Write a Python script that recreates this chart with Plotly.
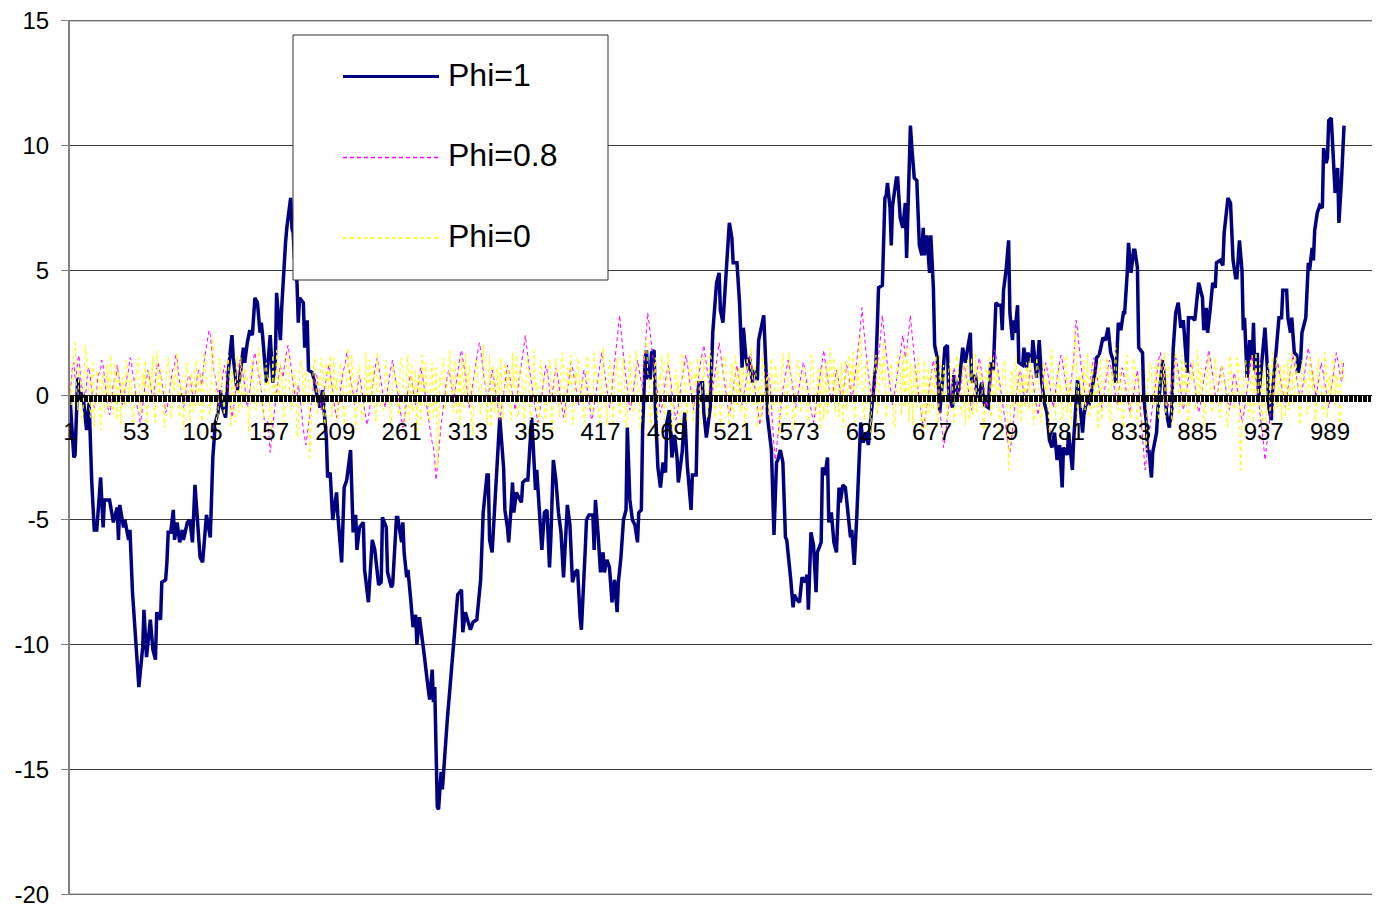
import plotly.graph_objects as go

# ---------------- data ----------------
phi1_cat = [1,2,4,5,7,9,11,12,14,16,18,20,22,25,27,28,32,35,38,39,40,43,44,47,48,50,52,54,55,58,59,61,64,66,68,69,72,73,76,77,78,80,82,83,85,87,89,90,93,95,
97,99,101,103,105,107,108,111,112,113,115,117,119,120,123,125,128,129,132,134,137,138,140,142,144,146,148,150,151,152,155,158,160,162,163,166,167,168,170,171,172,174,175,176,177,178,179,180,181,184,
185,187,188,191,192,195,197,199,202,203,205,207,210,211,214,216,218,221,223,225,226,228,231,232,235,238,240,243,245,246,249,250,253,254,257,258,261,262,263,265,266,268,270,272,273,275,277,279,281,283,
285,286,287,289,290,292,293,296,297,299,301,303,305,308,309,311,313,315,317,320,323,324,325,326,328,329,330,332,334,336,338,341,342,344,345,347,348,349,351,352,355,356,358,360,363,364,366,367,369,371,
373,375,377,378,380,382,384,386,388,391,393,395,397,399,401,402,405,406,408,411,412,413,415,417,419,420,422,424,426,428,430,431,433,435,437,438,440,442,444,446,447,449,450,452,453,454,456,457,459,460,
462,464,466,468,469,471,473,475,477,478,481,483,485,488,489,492,493,494,497,498,500,503,505,507,508,510,511,513,515,517,518,520,521,524,526,528,529,531,533,534,536,537,540,541,544,545,547,548,551,552,
553,555,556,558,560,562,563,566,568,569,571,573,575,577,579,580,582,584,586,587,590,591,593,595,596,598,600,602,604,605,607,609,611,613,614,616,618,620,621,623,625,627,629,631,633,634,635,638,639,640,
641,642,644,645,646,649,650,652,654,656,657,658,660,661,663,665,666,667,669,670,671,673,675,676,678,679,681,683,685,687,689,690,693,694,697,698,701,703,705,707,708,711,713,716,718,721,723,725,727,729,
731,732,733,735,737,738,740,741,742,744,745,748,749,751,752,755,756,758,759,761,763,765,767,769,771,773,775,777,779,780,783,784,787,788,791,792,795,796,799,800,802,805,806,808,811,813,815,817,819,821,
823,825,827,828,830,831,833,835,836,838,839,842,843,845,846,847,849,850,853,854,857,858,860,861,863,865,866,868,870,872,874,875,877,878,881,883,885,886,889,890,892,893,895,897,899,900,903,905,906,908,
909,911,913,915,916,918,920,921,922,924,926,928,929,930,932,933,936,937,938,940,941,943,944,947,949,951,952,955,956,958,959,961,963,964,966,967,969,970,972,973,975,976,977,979,981,983,984,986,987,988,
990,991,993,995,996,998,999,1000]

phi1_values = [-0.1,-1.0,-2.5,-2.4,0.7,-0.2,0.1,-0.4,-1.4,-0.3,-3.4,-5.4,-5.4,-3.3,-5.3,-4.2,-4.2,-5.1,-4.5,-5.8,-4.4,-5.3,-5.0,-5.8,-5.4,-7.9,-9.4,-11.3,-11.7,-10.1,-8.6,-10.5,-9.0,-10.2,-10.6,-8.7,-9.0,-7.5,-7.4,-6.7,-5.5,-5.5,-4.6,-5.8,-5.1,-5.9,-5.4,-5.8,-5.1,-5.0,
-5.9,-3.6,-5.1,-6.5,-6.7,-5.1,-4.8,-5.7,-4.3,-2.5,-1.1,-0.7,0.2,-0.4,-0.9,0.9,2.4,1.5,0.2,0.7,1.9,1.3,2.1,2.6,2.4,3.9,3.7,2.5,2.9,2.4,0.5,2.4,0.5,1.3,4.1,2.2,3.5,4.6,6.1,6.7,7.1,7.9,6.7,6.5,5.5,5.0,4.5,2.9,3.9,3.7,
1.9,3.0,1.0,0.9,0.7,-0.1,-0.5,0.2,-1.7,-3.3,-3.1,-5.0,-3.9,-4.8,-6.7,-3.7,-3.4,-2.2,-5.5,-4.8,-6.2,-5.3,-5.1,-7.0,-8.3,-5.8,-6.2,-7.6,-7.5,-4.9,-5.3,-7.1,-7.7,-7.6,-4.9,-4.9,-5.9,-5.1,-6.3,-7.3,-7.0,-8.1,-9.3,-8.8,-10.0,-8.9,-9.6,-10.5,-11.4,-12.2,
-11.0,-12.3,-11.7,-16.5,-16.6,-15.1,-15.8,-13.4,-12.9,-11.7,-10.5,-9.0,-8.0,-7.8,-9.5,-8.7,-9.0,-9.4,-9.1,-9.0,-7.4,-5.8,-4.7,-4.2,-3.2,-3.2,-5.8,-6.3,-4.4,-2.9,-0.9,-2.9,-4.6,-5.3,-5.9,-4.4,-3.5,-4.7,-3.9,-4.0,-4.3,-3.5,-3.4,-3.4,-0.9,-1.8,-3.8,-3.0,-4.4,-6.2,
-4.7,-4.6,-6.9,-5.8,-2.6,-3.4,-4.7,-5.5,-7.3,-4.4,-5.2,-7.5,-7.1,-7.0,-8.9,-9.4,-6.2,-5.0,-4.8,-4.8,-6.2,-4.2,-5.5,-7.1,-6.3,-7.1,-6.6,-6.9,-8.3,-7.4,-8.7,-7.5,-6.5,-5.0,-4.6,-1.3,-4.2,-5.0,-5.2,-5.9,-4.7,-4.6,-1.4,1.5,1.8,0.7,0.7,1.7,1.8,-0.5,
-2.9,-3.7,-2.7,-3.1,-1.1,-0.6,-2.5,-1.6,-2.5,-3.5,-2.3,-0.7,-2.8,-4.6,-3.2,-3.2,-0.7,0.5,0.5,-0.7,-1.7,-0.5,2.5,4.2,4.5,4.9,3.4,2.9,4.5,6.3,6.9,6.3,5.3,5.3,3.7,1.1,2.7,1.5,1.0,1.5,0.5,1.0,0.6,2.2,3.1,3.2,0.7,-0.9,-2.2,-3.9,
-5.6,-2.7,-2.6,-2.2,-2.7,-5.7,-5.8,-7.3,-8.5,-8.0,-8.2,-8.3,-7.3,-7.5,-7.2,-8.6,-5.5,-6.0,-7.9,-6.3,-5.9,-2.9,-3.2,-2.5,-5.1,-4.7,-5.9,-6.3,-3.7,-4.3,-3.6,-3.7,-4.9,-5.7,-5.4,-6.8,-4.8,-2.7,-1.1,-1.9,-1.5,-2.0,-0.8,0.0,1.3,2.7,4.3,4.4,6.8,7.9,
8.0,8.5,7.5,6.0,7.6,8.7,8.7,7.1,6.7,7.7,5.5,7.4,10.8,10.0,8.7,8.6,7.6,6.0,5.6,6.7,5.6,6.4,4.9,6.4,4.3,2.0,1.5,-0.7,0.5,1.9,2.0,0.1,-0.5,0.8,-0.1,0.5,1.9,1.3,2.0,2.5,0.5,0.8,-0.1,0.5,-0.4,-0.5,1.3,1.0,3.7,3.6,
3.6,2.6,4.2,5.0,6.2,3.3,2.2,3.0,2.5,3.6,1.3,1.2,1.9,1.1,1.7,1.3,2.2,1.2,0.7,2.2,0.5,-0.3,-0.7,-1.8,-2.1,-1.5,-2.6,-2.0,-3.7,-2.1,-2.4,-1.5,-3.0,-1.8,0.6,0.2,-1.5,-0.8,0.0,-0.4,0.1,1.0,1.5,1.6,2.3,2.2,2.7,1.7,1.4,0.5,
2.9,2.6,3.3,3.3,4.9,6.1,4.9,5.8,5.8,5.1,1.9,1.7,-0.1,-1.1,-2.3,-2.2,-3.3,-2.3,-1.5,-0.6,1.0,1.4,-0.2,-0.8,-1.3,-0.6,1.8,3.3,3.7,2.7,3.0,2.2,0.9,3.1,3.1,3.0,4.1,4.5,3.9,2.6,3.5,2.5,3.4,4.5,4.3,5.3,5.4,5.2,6.5,7.7,
7.9,7.7,5.4,4.7,4.7,6.2,5.0,2.6,3.1,0.7,2.2,1.4,2.9,1.0,1.7,-0.1,1.4,1.9,2.7,1.0,-0.5,-1.0,0.2,1.9,3.1,3.1,4.2,4.2,3.1,2.5,3.1,1.7,1.6,0.9,1.4,2.5,3.0,3.1,5.3,5.0,5.9,5.4,6.6,7.3,7.6,7.5,9.9,9.3,9.5,11.0,
11.1,10.1,8.1,9.1,6.9,8.6,9.8,10.8]

# Phi=0 series, values at odd categories (1, 3, 5, ...)
phi0_odd = [
0.3,1.2,2.1,-0.6,0.8,-1.1,2.0,0.4,-0.9,1.3,-0.2,0.7,-1.4,0.9,0.1,-0.5,1.6,-0.8,0.5,1.1,-1.2,0.2,1.4,-0.3,0.6,
-1.0,0.8,1.5,-0.4,0.3,-1.6,1.0,0.6,-0.7,1.8,-0.1,0.4,-1.3,1.2,0.9,-0.6,0.2,1.7,-0.9,0.5,-0.3,1.3,-1.1,0.7,1.0,
-0.5,0.9,-1.2,1.4,0.2,-0.8,2.3,0.5,-1.0,1.1,-0.4,0.8,1.6,-1.3,0.3,0.9,-0.7,1.5,-0.2,0.6,-1.5,1.2,0.4,-0.6,1.9,
0.1,-0.9,1.3,0.7,-1.4,0.5,1.8,-0.3,0.9,-1.1,1.4,0.2,-0.6,1.0,-1.7,0.8,1.2,-0.4,0.6,-2.5,0.3,1.5,-0.8,0.4,1.1,
-1.2,0.7,1.6,-0.5,0.2,-1.0,1.3,0.8,-0.7,1.9,-0.3,0.5,-1.4,1.1,0.3,-0.9,1.7,0.6,-0.4,1.2,-1.1,0.9,0.1,-0.6,1.4,
0.4,-1.3,1.0,0.6,-0.8,1.5,-0.2,0.9,-1.0,1.2,0.3,-1.5,0.8,1.6,-0.5,0.2,-1.1,1.3,-0.4,-2.9,0.7,1.1,-0.6,0.5,1.8,
-0.7,1.4,0.2,-1.2,0.9,1.7,-0.3,0.6,-1.6,1.0,0.4,-0.8,2.0,-0.1,0.7,-1.3,1.2,0.5,-0.9,1.5,-0.4,0.8,1.1,-1.0,0.3,
1.6,-0.6,0.9,-1.4,1.3,0.2,-0.7,1.8,0.5,-1.1,1.0,-0.2,0.6,1.4,-1.5,0.8,0.3,-0.9,1.7,-0.5,1.1,0.4,-1.2,0.9,1.5,
-0.3,0.7,-1.0,1.6,0.1,-0.8,1.2,0.6,-1.4,1.9,-0.4,0.5,1.3,-1.1,0.8,0.2,-0.6,1.5,-1.3,1.0,0.4,-0.7,1.8,0.3,-0.9,
1.4,2.3,0.6,-1.2,1.1,-0.5,0.8,1.6,-1.0,0.3,1.2,-1.5,0.7,0.1,-0.8,1.7,0.5,-1.1,1.3,-0.3,0.9,1.5,-1.2,0.6,0.2,
-0.9,1.8,0.4,-0.6,1.2,-1.3,0.7,1.4,-0.2,0.9,-1.0,1.6,0.3,-0.7,1.1,-1.4,0.5,1.9,-0.4,0.8,0.2,-1.1,1.3,0.6,-0.8,
1.5,-0.5,0.9,-1.6,1.0,0.4,-0.9,1.7,0.2,-1.2,1.3,0.7,-0.3,1.1,-1.0,0.5,1.6,-0.6,0.8,-1.4,1.2,0.3,-0.8,1.9,0.1,
-0.7,1.1,0.6,-1.3,1.4,-0.2,0.9,1.7,-1.0,0.4,2.4,-0.6,1.2,0.5,-1.5,0.8,1.6,-0.4,1.0,2.2,-0.9,0.7,1.3,-1.2,0.3,
1.5,-0.8,0.6,1.9,-1.1,0.2,1.2,-0.5,0.9,-1.7,1.4,0.4,-0.7,1.0,0.6,-1.3,1.8,-0.2,0.8,-1.0,1.3,0.5,-0.6,1.6,-0.4,
0.9,-1.2,1.4,0.3,-0.8,1.7,-0.3,0.6,-1.4,1.1,0.5,-0.9,1.5,-0.1,0.8,-1.6,1.2,0.4,-3.0,1.0,-0.5,1.6,0.2,-1.1,0.9,
1.3,-0.6,0.7,-1.2,1.5,0.3,-0.9,1.1,0.6,-1.5,1.8,-0.4,0.9,0.2,-1.0,1.4,-0.7,0.5,1.2,2.6,-1.3,0.8,0.4,-0.6,1.7,
-0.8,1.0,0.5,-1.4,1.6,-0.2,0.7,1.3,-1.1,0.4,1.9,-0.6,0.9,-1.3,1.2,0.1,-0.9,1.5,-0.5,0.8,0.3,-1.6,-2.2,0.6,1.1,
-0.4,1.4,-1.0,0.7,1.7,-0.3,0.9,-1.2,1.3,0.5,-0.8,1.6,0.2,-1.5,1.0,0.6,-0.6,1.8,-0.1,0.8,-1.1,1.2,0.4,-0.7,1.5,
0.3,-0.9,1.1,0.6,-1.3,1.6,-0.4,0.8,1.2,-3.0,0.5,1.4,-0.7,0.9,-1.1,1.7,0.2,-0.5,1.0,-1.4,1.3,0.6,-0.8,1.5,0.1,
-1.0,1.2,0.7,-0.6,1.8,-0.3,0.9,-1.2,1.4,0.4,-0.8,1.6,0.2,-1.1,1.0,0.5,-0.5,1.7,-0.9,0.8,1.3,-0.4,0.6,-1.3,1.1]

# Phi=0 series, values at even categories (2, 4, 6, ...)
phi0_even = [
-0.4,1.7,0.5,1.1,-0.9,0.6,1.5,-0.2,0.8,-1.3,1.0,0.3,0.6,-0.7,1.2,0.9,-0.4,1.3,-1.0,0.4,0.7,-0.5,1.1,0.8,-1.2,
0.5,1.3,-0.8,0.9,1.4,-0.3,0.2,1.6,-1.1,0.7,1.0,-0.6,0.4,1.5,-0.9,0.8,1.2,-0.2,0.6,-1.4,1.1,0.3,0.9,-0.7,1.4,
0.6,-1.0,1.7,0.4,-0.6,1.2,0.9,-1.3,1.5,0.2,-0.8,1.3,0.5,1.0,-1.1,1.6,0.3,-0.5,1.1,0.7,-0.9,1.4,-0.3,0.8,1.2,
-0.7,1.1,0.4,-1.2,1.6,-0.2,0.8,1.3,-0.9,0.5,1.7,-0.6,0.9,0.2,-1.3,1.4,-0.4,1.0,0.6,-1.6,1.2,-0.1,0.7,1.5,-0.8,
1.3,0.2,-0.9,1.5,0.7,-0.4,1.1,-1.2,0.9,0.4,1.6,-0.7,0.6,1.2,-1.0,0.8,-0.3,1.4,0.5,-0.8,1.7,0.1,-0.6,1.0,0.6,
-1.0,1.2,0.5,-0.5,1.4,0.9,-1.1,1.6,0.3,-0.7,1.0,0.6,-1.2,0.9,1.3,-0.4,0.8,-0.9,1.1,-1.8,0.4,1.5,-0.2,0.9,0.6,
1.1,-0.8,0.9,1.5,-0.5,0.3,1.2,-1.1,0.8,1.4,-0.3,0.7,1.0,-1.2,1.6,0.4,-0.7,1.1,0.5,-1.0,1.3,0.2,-0.6,1.7,0.8,
-0.9,1.2,0.5,-0.4,1.6,-1.0,0.9,0.3,-0.8,1.4,0.6,-1.3,1.1,0.7,-0.5,1.5,-0.2,0.9,1.2,-1.1,0.4,1.6,-0.7,0.5,1.0,
0.6,-1.1,1.3,0.2,-0.6,1.7,0.5,-0.9,1.0,0.8,-1.2,1.4,-0.3,0.7,1.5,-0.8,1.1,0.3,-1.0,1.6,-0.2,0.9,0.4,-1.4,1.2,
1.8,0.9,-0.8,0.4,1.5,-1.0,0.6,1.2,-0.4,1.7,0.3,-0.9,1.0,0.6,-1.3,1.3,-0.1,0.8,1.4,-1.1,0.5,1.0,-0.6,1.6,0.2,
0.7,1.4,-0.9,1.0,0.3,-0.7,1.6,0.2,-1.2,1.3,0.6,-0.4,1.1,0.8,-1.0,1.5,-0.3,0.9,1.2,-1.3,0.4,1.7,-0.5,0.8,1.1,
-0.6,1.2,0.5,-1.1,1.7,-0.2,0.8,1.0,-1.4,0.6,1.4,-0.7,0.9,0.3,-1.2,1.6,0.4,-0.8,1.1,0.7,-1.0,1.3,-0.2,0.9,1.5,
0.4,-0.9,1.3,0.8,-0.6,1.6,0.2,-1.1,1.2,1.9,0.7,-1.0,1.4,-0.3,0.9,1.1,-0.8,1.5,0.5,1.3,-0.5,1.0,0.3,-1.3,1.6,
1.0,1.7,-0.5,0.8,1.3,-1.2,0.6,1.5,-0.3,0.7,-1.4,1.1,0.9,-0.6,1.6,-0.9,0.4,1.2,-0.7,1.0,0.5,-1.1,1.4,0.2,-0.8,
1.2,0.6,-1.0,1.5,0.3,-0.7,1.3,0.8,-1.2,0.9,1.6,-0.4,0.7,1.1,-1.3,0.5,1.4,-0.6,-1.9,0.8,1.2,-0.9,1.0,0.4,-0.5,
0.8,1.5,-0.8,0.6,1.1,-1.1,1.3,0.2,-0.6,1.7,0.9,-1.0,1.2,0.4,-0.7,1.6,0.3,-1.2,1.0,1.9,0.6,-0.5,1.4,0.7,-0.9,
1.3,-0.5,0.8,1.2,-1.0,0.6,1.5,-0.7,0.9,1.4,-0.3,1.1,-1.1,0.5,1.6,-0.6,0.8,1.0,-1.2,0.4,-1.4,-1.8,0.7,1.3,-0.4,
1.0,-0.7,1.5,0.3,-0.9,1.2,0.6,-1.1,1.7,0.2,0.8,-0.5,1.3,-1.0,0.7,1.4,-0.3,0.9,1.1,-1.2,0.5,1.6,-0.6,1.0,0.4,
-0.8,1.2,0.5,-1.0,1.4,0.7,-0.6,1.5,-1.5,-1.2,1.1,0.3,-0.9,1.6,0.6,-0.4,1.3,-1.1,0.8,1.0,-0.7,1.7,0.2,-0.5,1.2,
0.6,-0.9,1.4,0.9,-0.4,1.6,0.3,-1.0,1.1,0.7,-0.6,1.3,1.0,-1.2,1.5,0.4,-0.8,1.2,0.6,-0.3,1.6,0.8,-1.0,1.4,0.5]

# Phi=0.8 series, values at odd categories (1, 3, 5, ...)
phi08_odd = [
0.1,1.2,0.7,1.4,0.9,0.2,-0.1,1.0,0.5,-0.2,-0.3,0.8,1.0,1.2,0.1,-0.6,-0.5,0.5,0.7,0.9,-0.1,-0.2,0.6,1.0,1.4,
0.7,-0.2,-0.7,-0.9,0.1,0.6,0.8,0.2,0.1,1.1,1.0,0.6,-0.4,-0.6,0.1,0.9,1.2,1.4,0.5,-0.1,-0.3,0.6,0.7,0.0,0.1,
0.8,0.9,0.7,1.6,2.3,2.4,1.2,0.7,-0.1,0.1,0.9,1.0,0.2,-0.7,-0.6,0.2,1.1,1.3,0.7,-0.1,-0.2,0.6,1.5,1.4,0.9,
0.2,-0.9,-1.2,-1.6,-1.8,-0.7,0.1,0.9,1.0,1.1,1.8,1.7,0.8,0.2,0.0,0.1,-1.0,-1.7,-1.6,-0.8,0.0,0.8,0.6,-0.2,-0.4,
0.4,1.0,0.9,0.2,-0.7,-0.6,0.1,0.9,1.3,1.4,0.6,0.1,-0.1,0.6,0.5,-0.2,-1.0,-0.9,0.0,0.7,1.3,1.2,0.5,-0.2,-0.1,
0.6,1.2,1.0,0.5,-0.3,-1.0,-1.0,-0.1,0.6,0.6,-0.1,0.0,0.8,0.9,0.2,-0.6,-1.2,-1.9,-2.6,-2.9,-1.7,-0.8,0.1,0.8,0.8,
0.1,0.2,1.0,1.6,1.5,0.8,-0.1,-0.2,0.5,1.2,1.9,1.8,1.0,0.1,0.0,0.7,0.8,0.0,-0.8,-0.7,0.1,0.9,1.0,0.4,-0.3,
-0.3,0.6,1.2,2.0,2.0,1.1,0.5,-0.3,-0.9,-0.8,0.1,0.9,1.0,0.2,0.0,0.8,0.9,0.1,-0.6,-0.6,0.3,1.0,1.1,0.5,-0.1,
-0.1,0.7,0.8,0.1,-0.7,-0.8,0.0,0.8,1.4,1.4,0.6,-0.1,-0.2,0.8,1.8,2.7,2.6,1.5,0.7,-0.2,-0.4,0.3,1.0,1.1,0.5,
1.1,2.7,2.9,1.9,1.1,0.3,-0.4,-0.5,0.2,0.9,0.9,0.1,-0.7,-0.8,-0.1,0.7,1.3,1.3,0.5,-0.2,-0.3,0.4,1.2,1.7,1.6,
0.9,0.1,0.2,1.0,1.8,1.7,0.9,0.2,-0.5,-0.5,0.3,0.9,0.8,0.0,-0.1,0.6,1.2,1.3,0.7,-0.1,-0.9,-0.9,-0.1,0.6,0.7,
-0.5,-2.0,-2.1,-1.0,-0.2,0.5,1.1,1.2,0.6,-0.1,-0.2,0.4,1.0,1.1,0.5,-0.3,-0.8,-0.8,0.1,0.8,1.4,1.4,0.7,0.0,0.0,
0.6,0.8,0.1,0.0,0.8,1.0,0.2,0.1,1.0,1.8,2.9,2.9,1.8,0.9,0.1,0.0,0.8,1.5,2.6,2.7,1.7,0.8,0.0,-0.1,0.6,
1.3,2.0,2.0,1.8,2.7,2.6,1.5,0.6,-0.2,-1.0,-1.1,-0.3,0.4,1.1,1.1,0.3,-0.5,-1.5,-1.8,-0.9,-0.1,0.8,0.9,0.2,0.1,
0.9,1.0,0.4,-0.3,-0.3,0.6,1.2,1.2,0.5,-0.2,-0.1,0.8,1.4,1.6,0.8,0.2,-0.6,-1.4,-2.1,-1.9,-0.9,0.0,0.8,0.8,0.0,
0.0,0.8,0.9,0.2,-0.6,-0.5,0.3,1.0,1.1,0.5,-0.2,-0.2,0.7,1.3,1.4,0.8,0.0,0.1,0.9,2.3,2.6,1.6,0.7,-0.1,-0.2,
0.6,1.3,1.2,0.5,-0.2,-0.2,0.5,1.1,1.2,0.6,-0.1,0.0,0.8,0.9,0.2,-0.4,-0.5,0.2,0.8,0.3,-1.0,-2.3,-2.6,-1.6,-0.8,
0.0,0.8,1.5,1.4,0.6,-0.1,-0.2,0.6,1.2,1.3,0.5,-0.2,-0.3,0.4,1.0,1.1,0.4,-0.3,-0.5,0.2,0.9,1.5,1.5,0.8,0.0,
0.2,0.9,1.0,0.4,-0.3,-0.3,0.6,0.7,0.0,-0.8,-0.9,-0.1,0.7,1.3,1.3,0.6,-0.2,-1.0,-2.0,-2.2,-1.2,-0.4,0.5,1.1,1.0,
0.4,-0.2,-0.1,0.7,1.3,1.3,0.7,0.1,0.1,0.9,1.6,1.6,0.9,0.3,0.2,1.0,1.1,0.5,-0.2,-0.1,0.7,1.4,1.4,0.8,1.0]

# Phi=0.8 series, values at even categories (2, 4, 6, ...)
phi08_even = [
0.5,1.3,0.8,1.6,0.4,-0.3,0.6,1.1,0.2,-0.5,0.3,0.9,1.4,0.7,-0.2,-0.8,0.1,0.6,1.2,0.5,-0.4,0.2,0.8,1.5,0.9,
0.3,-0.6,-1.1,-0.4,0.5,1.0,0.4,-0.2,0.7,1.3,0.8,0.1,-0.7,-0.2,0.6,1.1,1.6,0.9,0.3,-0.5,0.2,0.8,0.4,-0.3,0.5,
1.0,0.4,1.3,1.9,2.6,1.8,0.9,0.3,-0.4,0.5,1.2,0.6,-0.3,-0.9,-0.2,0.7,1.4,1.1,0.4,-0.5,0.3,1.0,1.7,1.2,0.6,
-0.4,-1.3,-1.0,-2.3,-1.2,-0.3,0.6,1.2,0.7,1.5,2.0,1.3,0.5,-0.2,0.4,-0.5,-1.4,-2.0,-1.1,-0.4,0.5,0.9,0.3,-0.6,-0.1,
0.7,1.2,0.6,-0.3,-0.9,-0.2,0.5,1.1,1.7,1.0,0.4,-0.4,0.3,0.8,0.2,-0.6,-1.2,-0.5,0.4,1.0,1.5,0.8,0.2,-0.5,0.3,
0.9,1.4,0.7,0.1,-0.7,-1.3,-0.6,0.3,0.8,0.2,-0.4,0.5,1.1,0.6,-0.2,-0.9,-1.6,-2.1,-3.4,-2.2,-1.2,-0.3,0.5,1.0,0.4,
-0.3,0.6,1.3,1.8,1.1,0.4,-0.5,0.2,0.9,1.5,2.1,1.4,0.6,-0.2,0.3,1.0,0.5,-0.4,-1.0,-0.3,0.6,1.2,0.7,0.1,-0.6,
0.2,0.9,1.6,2.4,1.5,0.8,0.1,-0.6,-1.1,-0.4,0.5,1.2,0.7,-0.2,0.4,1.1,0.6,-0.3,-0.9,-0.2,0.7,1.3,0.8,0.2,-0.4,
0.3,1.0,0.5,-0.3,-1.0,-0.4,0.4,1.1,1.7,1.0,0.3,-0.5,0.2,1.3,2.2,3.2,2.0,1.1,0.3,-0.6,-0.1,0.7,1.4,0.8,0.2,
1.9,3.3,2.4,1.5,0.7,-0.1,-0.7,-0.2,0.6,1.2,0.6,-0.3,-1.0,-0.5,0.4,1.0,1.6,0.9,0.2,-0.6,0.1,0.8,1.5,2.0,1.2,
0.5,-0.2,0.6,1.4,2.1,1.3,0.6,-0.2,-0.8,-0.2,0.7,1.2,0.5,-0.4,0.3,0.9,1.6,1.0,0.3,-0.5,-1.2,-0.6,0.3,0.9,0.4,
-1.4,-2.6,-1.5,-0.6,0.2,0.8,1.4,0.9,0.2,-0.5,0.1,0.7,1.3,0.8,0.1,-0.6,-1.1,-0.4,0.5,1.1,1.8,1.0,0.4,-0.3,0.3,
1.0,0.5,-0.3,0.4,1.2,0.6,-0.2,0.5,1.4,2.3,3.5,2.2,1.3,0.5,-0.3,0.4,1.1,2.0,3.2,2.1,1.2,0.4,-0.4,0.3,0.9,
1.6,2.4,1.5,2.2,3.2,2.0,1.0,0.2,-0.6,-1.3,-0.7,0.1,0.8,1.4,0.7,-0.1,-0.9,-2.1,-1.4,-0.5,0.4,1.1,0.6,-0.2,0.5,
1.2,0.7,0.1,-0.6,0.2,0.9,1.5,0.8,0.2,-0.5,0.4,1.1,1.8,1.2,0.5,-0.2,-0.9,-1.8,-2.3,-1.3,-0.4,0.5,1.0,0.4,-0.3,
0.4,1.0,0.6,-0.2,-0.8,-0.1,0.7,1.3,0.8,0.2,-0.5,0.3,1.0,1.6,1.1,0.4,-0.3,0.5,1.4,3.0,2.0,1.1,0.3,-0.4,0.2,
0.9,1.5,0.8,0.2,-0.5,0.2,0.8,1.4,0.9,0.3,-0.4,0.4,1.1,0.6,-0.1,-0.7,-0.2,0.5,1.0,-0.4,-1.5,-3.0,-2.1,-1.2,-0.4,
0.4,1.1,1.7,1.0,0.3,-0.5,0.2,0.9,1.5,0.9,0.2,-0.6,0.1,0.7,1.3,0.7,0.1,-0.7,-0.2,0.6,1.2,1.8,1.1,0.4,-0.3,
0.5,1.2,0.7,0.1,-0.6,0.2,0.9,0.4,-0.4,-1.1,-0.5,0.3,1.0,1.6,0.9,0.2,-0.6,-1.4,-2.6,-1.7,-0.8,0.1,0.8,1.3,0.7,
0.1,-0.5,0.3,1.0,1.6,1.0,0.4,-0.3,0.5,1.2,1.9,1.2,0.6,-0.1,0.6,1.3,0.8,0.2,-0.5,0.3,1.0,1.7,1.1,0.5,1.4]

x_tick_values = [1, 53, 105, 157, 209, 261, 313, 365, 417, 469, 521, 573, 625, 677, 729, 781, 833, 885, 937, 989]
y_tick_values = [-20, -15, -10, -5, 0, 5, 10, 15]
series_names = ["Phi=1", "Phi=0.8", "Phi=0"]

# merge odd/even readings into one series per category 1..N
phi0_values = [v for pair in zip(phi0_odd, phi0_even) for v in pair]
phi08_values = [v for pair in zip(phi08_odd, phi08_even) for v in pair]
noise_cat = list(range(1, len(phi0_values) + 1))

# ---------------- layout helpers ----------------
# The page body adds an 8 px offset, so the figure is 8 px smaller and margins shifted.
OFF = 8
W, H = 1380 - OFF, 907 - OFF
ML, MR, MT, MB = 70 - OFF, 0, 20 - OFF, 12
PW, PH = W - ML - MR, H - MT - MB      # 1310 x 875 plot area

def px(xp):   # screen pixel x -> paper
    return (xp - 70) / PW
def py(yp):   # screen pixel y -> paper
    return (895 - yp) / PH

FONT = "Liberation Sans, Arial, sans-serif"
NAVY, MAGENTA, YELLOW = "#000080", "#FF00FF", "#FFFF00"
GRID = "#3a3a3a"
Y0, Y1 = -20.03, 15.03

fig = go.Figure()
fig.add_trace(go.Scatter(x=phi1_cat, y=phi1_values, mode="lines", name=series_names[0],
                         line=dict(color=NAVY, width=3.5), showlegend=False))
fig.add_trace(go.Scatter(x=noise_cat, y=phi08_values, mode="lines", name=series_names[1],
                         line=dict(color=MAGENTA, width=1, dash="4px,3px"), showlegend=False))
fig.add_trace(go.Scatter(x=noise_cat, y=phi0_values, mode="lines", name=series_names[2],
                         line=dict(color=YELLOW, width=1, dash="4px,3px"), showlegend=False))

fig.update_layout(
    width=W, height=H,
    margin=dict(l=ML, r=MR, t=MT, b=MB, autoexpand=False),
    paper_bgcolor="white", plot_bgcolor="white",
    font=dict(family=FONT, size=24, color="black"),
    xaxis=dict(
        range=[1, 1 + PW / 1.2753],
        anchor="free", position=(0 - Y0) / (Y1 - Y0),
        showgrid=False, zeroline=False,
        showline=True, linecolor="black", linewidth=1,
        tickmode="array", tickvals=x_tick_values, ticktext=[str(v) for v in x_tick_values],
        ticks="outside", ticklen=6, tickwidth=1, tickcolor="black",
        minor=dict(tickmode="linear", tick0=1, dtick=1, ticks="outside", ticklen=6,
                   tickwidth=1, tickcolor="black", showgrid=False),
        ticklabelstandoff=9, ticklabeloverflow="allow",
        tickfont=dict(family=FONT, size=24, color="black"),
    ),
    yaxis=dict(
        range=[Y0, Y1],
        tickmode="array", tickvals=y_tick_values, ticktext=[str(v) for v in y_tick_values],
        showgrid=True, gridcolor=GRID, gridwidth=1,
        zeroline=False,
        showline=True, linecolor="#808080", linewidth=2,
        ticks="outside", ticklen=7, tickwidth=1, tickcolor="#808080",
        ticklabelstandoff=7, ticklabeloverflow="allow",
        tickfont=dict(family=FONT, size=24, color="black"),
    ),
    showlegend=False,
)

# gridlines at the two ends of the value axis (plotly skips edge gridlines)
shapes = []
for yv in (y_tick_values[0], y_tick_values[-1]):
    shapes.append(dict(type="line", xref="paper", yref="y", layer="below",
                       x0=0, x1=1, y0=yv, y1=yv, line=dict(color=GRID, width=1)))

# ---------------- legend box (drawn like the Excel legend) ----------------
shapes.append(dict(type="rect", xref="paper", yref="paper", layer="above",
                   x0=px(293), x1=px(608), y0=py(280), y1=py(35),
                   fillcolor="white", line=dict(color="#333333", width=1)))
rows = [(76.5, NAVY, 3, "solid"), (157.5, MAGENTA, 1.5, "4px,3px"), (238, YELLOW, 1.5, "4px,3px")]
annotations = []
for (ypix, col, lw, dash), name in zip(rows, series_names):
    shapes.append(dict(type="line", xref="paper", yref="paper", layer="above",
                       x0=px(343), x1=px(439), y0=py(ypix), y1=py(ypix),
                       line=dict(color=col, width=lw, dash=dash)))
    annotations.append(dict(xref="paper", yref="paper", x=px(446), y=py(ypix - 2),
                            xanchor="left", yanchor="middle", showarrow=False,
                            text=name, font=dict(family=FONT, size=32, color="black")))
fig.update_layout(shapes=shapes, annotations=annotations)

fig.write_html("out.html")
